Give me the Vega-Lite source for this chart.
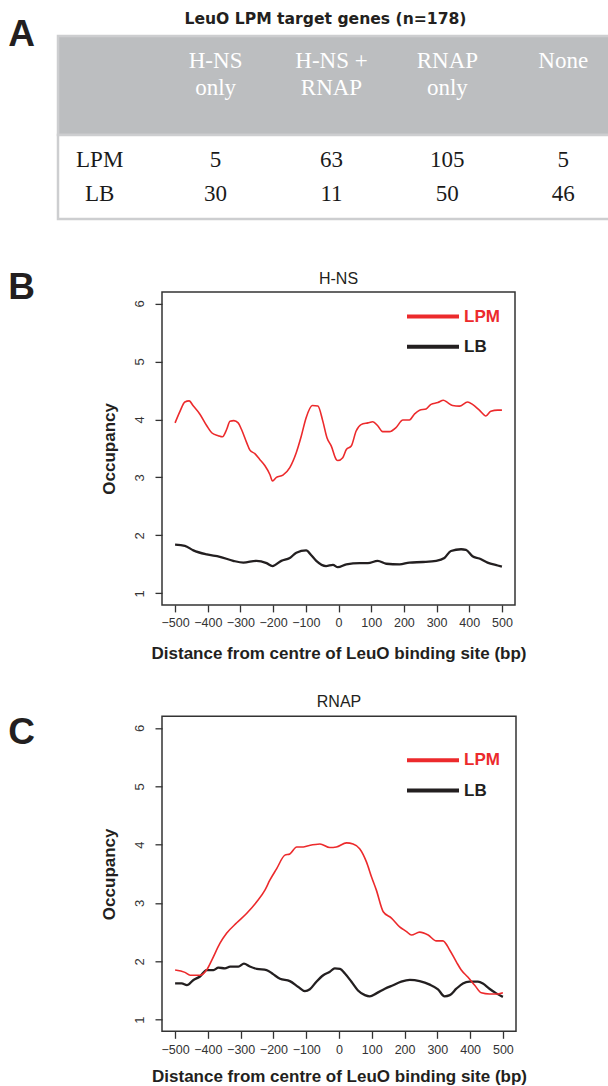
{
  "$schema": "https://vega.github.io/schema/vega-lite/v6.json",
  "background": "white",
  "padding": {"left": 0, "top": 11, "right": 0, "bottom": 0},
  "spacing": 47.9,
  "resolve": {"scale": {"color": "independent"}, "legend": {"color": "independent"}},
  "datasets": {
    "panels": [{"panel": "A"}, {"panel": "B"}, {"panel": "C"}],
    "headings": [
      {"group": "H-NS only", "heading": "H-NS\nonly"},
      {"group": "H-NS + RNAP", "heading": "H-NS +\nRNAP"},
      {"group": "RNAP only", "heading": "RNAP\nonly"},
      {"group": "None", "heading": "None"}
    ],
    "counts": [
      {"condition": "LPM", "group": "H-NS only", "genes": 5},
      {"condition": "LPM", "group": "H-NS + RNAP", "genes": 63},
      {"condition": "LPM", "group": "RNAP only", "genes": 105},
      {"condition": "LPM", "group": "None", "genes": 5},
      {"condition": "LB", "group": "H-NS only", "genes": 30},
      {"condition": "LB", "group": "H-NS + RNAP", "genes": 11},
      {"condition": "LB", "group": "RNAP only", "genes": 50},
      {"condition": "LB", "group": "None", "genes": 46}
    ],
    "curves": [
      {"target": "H-NS", "sample": "LPM", "pos": -500, "occ": 3.94},
      {"target": "H-NS", "sample": "LPM", "pos": -485, "occ": 4.14},
      {"target": "H-NS", "sample": "LPM", "pos": -470, "occ": 4.30},
      {"target": "H-NS", "sample": "LPM", "pos": -457, "occ": 4.32},
      {"target": "H-NS", "sample": "LPM", "pos": -444, "occ": 4.23},
      {"target": "H-NS", "sample": "LPM", "pos": -424, "occ": 4.09},
      {"target": "H-NS", "sample": "LPM", "pos": -403, "occ": 3.89},
      {"target": "H-NS", "sample": "LPM", "pos": -388, "occ": 3.77},
      {"target": "H-NS", "sample": "LPM", "pos": -368, "occ": 3.72},
      {"target": "H-NS", "sample": "LPM", "pos": -355, "occ": 3.70},
      {"target": "H-NS", "sample": "LPM", "pos": -342, "occ": 3.83},
      {"target": "H-NS", "sample": "LPM", "pos": -332, "occ": 3.97},
      {"target": "H-NS", "sample": "LPM", "pos": -320, "occ": 3.98},
      {"target": "H-NS", "sample": "LPM", "pos": -307, "occ": 3.94},
      {"target": "H-NS", "sample": "LPM", "pos": -297, "occ": 3.83},
      {"target": "H-NS", "sample": "LPM", "pos": -281, "occ": 3.60},
      {"target": "H-NS", "sample": "LPM", "pos": -271, "occ": 3.47},
      {"target": "H-NS", "sample": "LPM", "pos": -256, "occ": 3.41},
      {"target": "H-NS", "sample": "LPM", "pos": -241, "occ": 3.31},
      {"target": "H-NS", "sample": "LPM", "pos": -225, "occ": 3.20},
      {"target": "H-NS", "sample": "LPM", "pos": -210, "occ": 3.05},
      {"target": "H-NS", "sample": "LPM", "pos": -202, "occ": 2.94},
      {"target": "H-NS", "sample": "LPM", "pos": -190, "occ": 3.00},
      {"target": "H-NS", "sample": "LPM", "pos": -170, "occ": 3.04},
      {"target": "H-NS", "sample": "LPM", "pos": -149, "occ": 3.17},
      {"target": "H-NS", "sample": "LPM", "pos": -129, "occ": 3.43},
      {"target": "H-NS", "sample": "LPM", "pos": -114, "occ": 3.71},
      {"target": "H-NS", "sample": "LPM", "pos": -99, "occ": 4.03},
      {"target": "H-NS", "sample": "LPM", "pos": -80, "occ": 4.24},
      {"target": "H-NS", "sample": "LPM", "pos": -63, "occ": 4.23},
      {"target": "H-NS", "sample": "LPM", "pos": -48, "occ": 3.97},
      {"target": "H-NS", "sample": "LPM", "pos": -35, "occ": 3.68},
      {"target": "H-NS", "sample": "LPM", "pos": -22, "occ": 3.54},
      {"target": "H-NS", "sample": "LPM", "pos": -7, "occ": 3.31},
      {"target": "H-NS", "sample": "LPM", "pos": -2, "occ": 3.29},
      {"target": "H-NS", "sample": "LPM", "pos": 13, "occ": 3.34},
      {"target": "H-NS", "sample": "LPM", "pos": 24, "occ": 3.48},
      {"target": "H-NS", "sample": "LPM", "pos": 39, "occ": 3.54},
      {"target": "H-NS", "sample": "LPM", "pos": 54, "occ": 3.80},
      {"target": "H-NS", "sample": "LPM", "pos": 69, "occ": 3.91},
      {"target": "H-NS", "sample": "LPM", "pos": 90, "occ": 3.94},
      {"target": "H-NS", "sample": "LPM", "pos": 105, "occ": 3.96},
      {"target": "H-NS", "sample": "LPM", "pos": 120, "occ": 3.89},
      {"target": "H-NS", "sample": "LPM", "pos": 135, "occ": 3.79},
      {"target": "H-NS", "sample": "LPM", "pos": 156, "occ": 3.79},
      {"target": "H-NS", "sample": "LPM", "pos": 176, "occ": 3.86},
      {"target": "H-NS", "sample": "LPM", "pos": 197, "occ": 3.99},
      {"target": "H-NS", "sample": "LPM", "pos": 217, "occ": 3.99},
      {"target": "H-NS", "sample": "LPM", "pos": 232, "occ": 4.09},
      {"target": "H-NS", "sample": "LPM", "pos": 248, "occ": 4.16},
      {"target": "H-NS", "sample": "LPM", "pos": 268, "occ": 4.18},
      {"target": "H-NS", "sample": "LPM", "pos": 283, "occ": 4.26},
      {"target": "H-NS", "sample": "LPM", "pos": 304, "occ": 4.29},
      {"target": "H-NS", "sample": "LPM", "pos": 321, "occ": 4.33},
      {"target": "H-NS", "sample": "LPM", "pos": 334, "occ": 4.29},
      {"target": "H-NS", "sample": "LPM", "pos": 349, "occ": 4.24},
      {"target": "H-NS", "sample": "LPM", "pos": 370, "occ": 4.23},
      {"target": "H-NS", "sample": "LPM", "pos": 395, "occ": 4.30},
      {"target": "H-NS", "sample": "LPM", "pos": 410, "occ": 4.26},
      {"target": "H-NS", "sample": "LPM", "pos": 431, "occ": 4.16},
      {"target": "H-NS", "sample": "LPM", "pos": 451, "occ": 4.06},
      {"target": "H-NS", "sample": "LPM", "pos": 466, "occ": 4.14},
      {"target": "H-NS", "sample": "LPM", "pos": 487, "occ": 4.16},
      {"target": "H-NS", "sample": "LPM", "pos": 500, "occ": 4.16},
      {"target": "H-NS", "sample": "LB", "pos": -500, "occ": 1.84},
      {"target": "H-NS", "sample": "LB", "pos": -470, "occ": 1.82},
      {"target": "H-NS", "sample": "LB", "pos": -444, "occ": 1.74},
      {"target": "H-NS", "sample": "LB", "pos": -403, "occ": 1.67},
      {"target": "H-NS", "sample": "LB", "pos": -363, "occ": 1.63},
      {"target": "H-NS", "sample": "LB", "pos": -322, "occ": 1.56},
      {"target": "H-NS", "sample": "LB", "pos": -291, "occ": 1.53},
      {"target": "H-NS", "sample": "LB", "pos": -251, "occ": 1.56},
      {"target": "H-NS", "sample": "LB", "pos": -220, "occ": 1.52},
      {"target": "H-NS", "sample": "LB", "pos": -202, "occ": 1.47},
      {"target": "H-NS", "sample": "LB", "pos": -175, "occ": 1.56},
      {"target": "H-NS", "sample": "LB", "pos": -149, "occ": 1.61},
      {"target": "H-NS", "sample": "LB", "pos": -129, "occ": 1.70},
      {"target": "H-NS", "sample": "LB", "pos": -99, "occ": 1.74},
      {"target": "H-NS", "sample": "LB", "pos": -84, "occ": 1.66},
      {"target": "H-NS", "sample": "LB", "pos": -68, "occ": 1.56},
      {"target": "H-NS", "sample": "LB", "pos": -38, "occ": 1.47},
      {"target": "H-NS", "sample": "LB", "pos": -17, "occ": 1.49},
      {"target": "H-NS", "sample": "LB", "pos": -2, "occ": 1.45},
      {"target": "H-NS", "sample": "LB", "pos": 24, "occ": 1.50},
      {"target": "H-NS", "sample": "LB", "pos": 65, "occ": 1.52},
      {"target": "H-NS", "sample": "LB", "pos": 90, "occ": 1.52},
      {"target": "H-NS", "sample": "LB", "pos": 120, "occ": 1.56},
      {"target": "H-NS", "sample": "LB", "pos": 146, "occ": 1.51},
      {"target": "H-NS", "sample": "LB", "pos": 187, "occ": 1.50},
      {"target": "H-NS", "sample": "LB", "pos": 217, "occ": 1.53},
      {"target": "H-NS", "sample": "LB", "pos": 258, "occ": 1.54},
      {"target": "H-NS", "sample": "LB", "pos": 299, "occ": 1.56},
      {"target": "H-NS", "sample": "LB", "pos": 324, "occ": 1.61},
      {"target": "H-NS", "sample": "LB", "pos": 344, "occ": 1.73},
      {"target": "H-NS", "sample": "LB", "pos": 375, "occ": 1.76},
      {"target": "H-NS", "sample": "LB", "pos": 390, "occ": 1.75},
      {"target": "H-NS", "sample": "LB", "pos": 410, "occ": 1.64},
      {"target": "H-NS", "sample": "LB", "pos": 431, "occ": 1.60},
      {"target": "H-NS", "sample": "LB", "pos": 456, "occ": 1.53},
      {"target": "H-NS", "sample": "LB", "pos": 487, "occ": 1.48},
      {"target": "H-NS", "sample": "LB", "pos": 500, "occ": 1.46},
      {"target": "RNAP", "sample": "LPM", "pos": -500, "occ": 1.85},
      {"target": "RNAP", "sample": "LPM", "pos": -470, "occ": 1.81},
      {"target": "RNAP", "sample": "LPM", "pos": -454, "occ": 1.76},
      {"target": "RNAP", "sample": "LPM", "pos": -424, "occ": 1.76},
      {"target": "RNAP", "sample": "LPM", "pos": -404, "occ": 1.85},
      {"target": "RNAP", "sample": "LPM", "pos": -388, "occ": 2.02},
      {"target": "RNAP", "sample": "LPM", "pos": -363, "occ": 2.31},
      {"target": "RNAP", "sample": "LPM", "pos": -343, "occ": 2.48},
      {"target": "RNAP", "sample": "LPM", "pos": -312, "occ": 2.66},
      {"target": "RNAP", "sample": "LPM", "pos": -282, "occ": 2.82},
      {"target": "RNAP", "sample": "LPM", "pos": -251, "occ": 3.02},
      {"target": "RNAP", "sample": "LPM", "pos": -226, "occ": 3.22},
      {"target": "RNAP", "sample": "LPM", "pos": -211, "occ": 3.39},
      {"target": "RNAP", "sample": "LPM", "pos": -190, "occ": 3.59},
      {"target": "RNAP", "sample": "LPM", "pos": -165, "occ": 3.82},
      {"target": "RNAP", "sample": "LPM", "pos": -150, "occ": 3.84},
      {"target": "RNAP", "sample": "LPM", "pos": -129, "occ": 3.96},
      {"target": "RNAP", "sample": "LPM", "pos": -109, "occ": 3.96},
      {"target": "RNAP", "sample": "LPM", "pos": -94, "occ": 3.98},
      {"target": "RNAP", "sample": "LPM", "pos": -58, "occ": 4.01},
      {"target": "RNAP", "sample": "LPM", "pos": -28, "occ": 3.95},
      {"target": "RNAP", "sample": "LPM", "pos": -8, "occ": 3.96},
      {"target": "RNAP", "sample": "LPM", "pos": 23, "occ": 4.03},
      {"target": "RNAP", "sample": "LPM", "pos": 43, "occ": 4.01},
      {"target": "RNAP", "sample": "LPM", "pos": 63, "occ": 3.93},
      {"target": "RNAP", "sample": "LPM", "pos": 84, "occ": 3.70},
      {"target": "RNAP", "sample": "LPM", "pos": 99, "occ": 3.45},
      {"target": "RNAP", "sample": "LPM", "pos": 114, "occ": 3.22},
      {"target": "RNAP", "sample": "LPM", "pos": 135, "occ": 2.85},
      {"target": "RNAP", "sample": "LPM", "pos": 160, "occ": 2.74},
      {"target": "RNAP", "sample": "LPM", "pos": 185, "occ": 2.59},
      {"target": "RNAP", "sample": "LPM", "pos": 206, "occ": 2.51},
      {"target": "RNAP", "sample": "LPM", "pos": 221, "occ": 2.45},
      {"target": "RNAP", "sample": "LPM", "pos": 246, "occ": 2.50},
      {"target": "RNAP", "sample": "LPM", "pos": 272, "occ": 2.45},
      {"target": "RNAP", "sample": "LPM", "pos": 297, "occ": 2.35},
      {"target": "RNAP", "sample": "LPM", "pos": 317, "occ": 2.35},
      {"target": "RNAP", "sample": "LPM", "pos": 338, "occ": 2.19},
      {"target": "RNAP", "sample": "LPM", "pos": 358, "occ": 1.99},
      {"target": "RNAP", "sample": "LPM", "pos": 373, "occ": 1.85},
      {"target": "RNAP", "sample": "LPM", "pos": 393, "occ": 1.73},
      {"target": "RNAP", "sample": "LPM", "pos": 414, "occ": 1.59},
      {"target": "RNAP", "sample": "LPM", "pos": 434, "occ": 1.46},
      {"target": "RNAP", "sample": "LPM", "pos": 459, "occ": 1.44},
      {"target": "RNAP", "sample": "LPM", "pos": 485, "occ": 1.44},
      {"target": "RNAP", "sample": "LPM", "pos": 500, "occ": 1.46},
      {"target": "RNAP", "sample": "LB", "pos": -500, "occ": 1.62},
      {"target": "RNAP", "sample": "LB", "pos": -480, "occ": 1.62},
      {"target": "RNAP", "sample": "LB", "pos": -464, "occ": 1.59},
      {"target": "RNAP", "sample": "LB", "pos": -444, "occ": 1.68},
      {"target": "RNAP", "sample": "LB", "pos": -424, "occ": 1.74},
      {"target": "RNAP", "sample": "LB", "pos": -404, "occ": 1.85},
      {"target": "RNAP", "sample": "LB", "pos": -383, "occ": 1.85},
      {"target": "RNAP", "sample": "LB", "pos": -368, "occ": 1.89},
      {"target": "RNAP", "sample": "LB", "pos": -348, "occ": 1.88},
      {"target": "RNAP", "sample": "LB", "pos": -332, "occ": 1.91},
      {"target": "RNAP", "sample": "LB", "pos": -307, "occ": 1.91},
      {"target": "RNAP", "sample": "LB", "pos": -290, "occ": 1.96},
      {"target": "RNAP", "sample": "LB", "pos": -272, "occ": 1.91},
      {"target": "RNAP", "sample": "LB", "pos": -251, "occ": 1.87},
      {"target": "RNAP", "sample": "LB", "pos": -221, "occ": 1.85},
      {"target": "RNAP", "sample": "LB", "pos": -201, "occ": 1.78},
      {"target": "RNAP", "sample": "LB", "pos": -180, "occ": 1.70},
      {"target": "RNAP", "sample": "LB", "pos": -150, "occ": 1.66},
      {"target": "RNAP", "sample": "LB", "pos": -124, "occ": 1.56},
      {"target": "RNAP", "sample": "LB", "pos": -104, "occ": 1.49},
      {"target": "RNAP", "sample": "LB", "pos": -89, "occ": 1.52},
      {"target": "RNAP", "sample": "LB", "pos": -69, "occ": 1.65},
      {"target": "RNAP", "sample": "LB", "pos": -48, "occ": 1.76},
      {"target": "RNAP", "sample": "LB", "pos": -28, "occ": 1.82},
      {"target": "RNAP", "sample": "LB", "pos": -13, "occ": 1.88},
      {"target": "RNAP", "sample": "LB", "pos": 3, "occ": 1.87},
      {"target": "RNAP", "sample": "LB", "pos": 18, "occ": 1.79},
      {"target": "RNAP", "sample": "LB", "pos": 38, "occ": 1.65},
      {"target": "RNAP", "sample": "LB", "pos": 58, "occ": 1.50},
      {"target": "RNAP", "sample": "LB", "pos": 79, "occ": 1.42},
      {"target": "RNAP", "sample": "LB", "pos": 94, "occ": 1.40},
      {"target": "RNAP", "sample": "LB", "pos": 114, "occ": 1.45},
      {"target": "RNAP", "sample": "LB", "pos": 140, "occ": 1.53},
      {"target": "RNAP", "sample": "LB", "pos": 165, "occ": 1.59},
      {"target": "RNAP", "sample": "LB", "pos": 190, "occ": 1.65},
      {"target": "RNAP", "sample": "LB", "pos": 216, "occ": 1.68},
      {"target": "RNAP", "sample": "LB", "pos": 246, "occ": 1.66},
      {"target": "RNAP", "sample": "LB", "pos": 277, "occ": 1.60},
      {"target": "RNAP", "sample": "LB", "pos": 302, "occ": 1.52},
      {"target": "RNAP", "sample": "LB", "pos": 322, "occ": 1.40},
      {"target": "RNAP", "sample": "LB", "pos": 338, "occ": 1.42},
      {"target": "RNAP", "sample": "LB", "pos": 358, "occ": 1.53},
      {"target": "RNAP", "sample": "LB", "pos": 378, "occ": 1.62},
      {"target": "RNAP", "sample": "LB", "pos": 398, "occ": 1.65},
      {"target": "RNAP", "sample": "LB", "pos": 424, "occ": 1.65},
      {"target": "RNAP", "sample": "LB", "pos": 439, "occ": 1.62},
      {"target": "RNAP", "sample": "LB", "pos": 459, "occ": 1.53},
      {"target": "RNAP", "sample": "LB", "pos": 480, "occ": 1.45},
      {"target": "RNAP", "sample": "LB", "pos": 500, "occ": 1.39}
    ]
  },
  "config": {
    "font": "Liberation Sans",
    "view": {"stroke": "#333333", "strokeWidth": 1.5},
    "axis": {
      "grid": false, "domain": false, "tickColor": "#333333", "tickWidth": 1.3, "tickSize": 7,
      "labelColor": "#333333", "labelFont": "Liberation Sans", "titleFont": "Liberation Sans",
      "titleFontWeight": "bold", "titleFontSize": 17, "titleColor": "#231f20",
      "labelOverlap": false, "labelFlush": false
    },
    "axisX": {"labelFontSize": 12.5, "labelPadding": 5, "titlePadding": 16},
    "axisY": {"labelFontSize": 13, "labelAngle": -90, "labelAlign": "center", "labelBaseline": "bottom", "labelPadding": 9, "titlePadding": 15},
    "legend": {
      "symbolType": "M-2.6,0H2.6", "symbolSize": 400, "symbolStrokeWidth": 4, "symbolOpacity": 1,
      "labelFont": "Liberation Sans", "labelFontSize": 17, "labelFontWeight": "bold",
      "labelOffset": 19, "rowPadding": 10.2, "padding": 0
    },
    "title": {"font": "Liberation Sans", "fontWeight": "normal", "fontSize": 16, "color": "#231f20", "frame": "group", "baseline": "alphabetic", "anchor": "middle"}
  },
  "vconcat": [
    {
      "hconcat": [
        {
          "width": 43, "height": 20,
          "view": {"stroke": null},
          "data": {"name": "panels"},
          "transform": [{"filter": "datum.panel === 'A'"}],
          "mark": {"type": "text", "font": "Liberation Sans", "fontWeight": "bold", "fontSize": 37, "baseline": "alphabetic", "align": "center", "color": "#231f20"},
          "encoding": {"text": {"field": "panel", "type": "nominal"}}
        },
        {
          "vconcat": [
            {
              "width": 554, "height": 99,
              "view": {"fill": "#bcbec0", "stroke": "#cdced0", "strokeWidth": 2.5},
              "title": {"text": "LeuO LPM target genes (n=178)", "font": "DejaVu Sans", "fontWeight": "bold", "fontSize": 15.6, "offset": 8, "dx": -9.5},
              "data": {"name": "headings"},
              "mark": {"type": "text", "font": "Liberation Serif", "fontSize": 23, "color": "white", "baseline": "alphabetic", "lineBreak": "\n", "lineHeight": 27, "dy": -17.5},
              "encoding": {
                "x": {"field": "group", "type": "nominal", "scale": {"type": "point", "domain": ["Condition", "H-NS only", "H-NS + RNAP", "RNAP only", "None"], "padding": 0.39, "align": 0.461}, "axis": null},
                "text": {"field": "heading", "type": "nominal"}
              }
            },
            {
              "width": 554, "height": 84,
              "view": {"fill": "white", "stroke": "#cdced0", "strokeWidth": 2.5},
              "data": {"name": "counts"},
              "encoding": {
                "y": {"field": "condition", "type": "nominal", "scale": {"type": "point", "domain": ["LPM", "LB"], "padding": 0.75}, "axis": null}
              },
              "layer": [
                {
                  "mark": {"type": "text", "font": "Liberation Serif", "fontSize": 23, "color": "#1a1a1a"},
                  "encoding": {
                    "x": {"field": "group", "type": "nominal", "scale": {"type": "point", "domain": ["Condition", "H-NS only", "H-NS + RNAP", "RNAP only", "None"], "padding": 0.39, "align": 0.461}, "axis": null},
                    "text": {"field": "genes", "type": "nominal"}
                  }
                },
                {
                  "transform": [{"aggregate": [], "groupby": ["condition"]}],
                  "mark": {"type": "text", "font": "Liberation Serif", "fontSize": 23, "color": "#1a1a1a"},
                  "encoding": {
                    "x": {"datum": "Condition", "type": "nominal"},
                    "text": {"field": "condition", "type": "nominal"}
                  }
                }
              ]
            }
          ],
          "spacing": 0,
          "bounds": "flush"
        }
      ],
      "spacing": 13
    },
    {
      "vconcat": [
        {
          "hconcat": [
            {
              "width": 43, "height": 14,
              "view": {"stroke": null},
              "data": {"name": "panels"},
              "transform": [{"filter": "datum.panel === 'B'"}],
              "mark": {"type": "text", "font": "Liberation Sans", "fontWeight": "bold", "fontSize": 37, "baseline": "alphabetic", "align": "center", "color": "#231f20"},
              "encoding": {"text": {"field": "panel", "type": "nominal"}}
            },
            {
              "width": 353, "height": 313,
              "title": {"text": "H-NS", "offset": 5},
              "data": {"name": "curves"},
              "transform": [{"filter": "datum.target === 'H-NS'"}],
              "encoding": {
                "x": {"field": "pos", "type": "quantitative", "scale": {"domain": [-540, 540], "nice": false, "zero": false},
                      "axis": {"values": [-500, -400, -300, -200, -100, 0, 100, 200, 300, 400, 500], "title": "Distance from centre of LeuO binding site (bp)"}},
                "y": {"field": "occ", "type": "quantitative", "scale": {"domain": [0.8, 6.2], "nice": false, "zero": false},
                      "axis": {"values": [1, 2, 3, 4, 5, 6], "title": "Occupancy"}},
                "color": {"field": "sample", "type": "nominal", "scale": {"domain": ["LPM", "LB"], "range": ["#ec2a2c", "#231f20"]},
                          "legend": {"title": null, "orient": "none", "legendX": 259, "legendY": 12.7,
                                     "labelColor": {"expr": "datum.label == 'LPM' ? '#ec2a2c' : '#231f20'"}}}
              },
              "layer": [
                {"transform": [{"filter": "datum.sample === 'LB'"}], "mark": {"type": "line", "interpolate": "monotone", "strokeWidth": 2.3}},
                {"transform": [{"filter": "datum.sample === 'LPM'"}], "mark": {"type": "line", "interpolate": "monotone", "strokeWidth": 1.6}}
              ]
            }
          ],
          "spacing": 119,
          "bounds": "flush",
          "resolve": {"scale": {"color": "independent"}, "legend": {"color": "independent"}}
        },
        {
          "hconcat": [
            {
              "width": 43, "height": 55,
              "view": {"stroke": null},
              "data": {"name": "panels"},
              "transform": [{"filter": "datum.panel === 'C'"}],
              "mark": {"type": "text", "font": "Liberation Sans", "fontWeight": "bold", "fontSize": 37, "baseline": "alphabetic", "align": "center", "color": "#231f20"},
              "encoding": {"text": {"field": "panel", "type": "nominal"}}
            },
            {
              "width": 354, "height": 315,
              "title": {"text": "RNAP", "offset": 6},
              "data": {"name": "curves"},
              "transform": [{"filter": "datum.target === 'RNAP'"}],
              "encoding": {
                "x": {"field": "pos", "type": "quantitative", "scale": {"domain": [-540, 540], "nice": false, "zero": false},
                      "axis": {"values": [-500, -400, -300, -200, -100, 0, 100, 200, 300, 400, 500], "title": "Distance from centre of LeuO binding site (bp)", "titlePadding": 13}},
                "y": {"field": "occ", "type": "quantitative", "scale": {"domain": [0.8, 6.2], "nice": false, "zero": false},
                      "axis": {"values": [1, 2, 3, 4, 5, 6], "title": "Occupancy"}},
                "color": {"field": "sample", "type": "nominal", "scale": {"domain": ["LPM", "LB"], "range": ["#ec2a2c", "#231f20"]},
                          "legend": {"title": null, "orient": "none", "legendX": 259, "legendY": 32,
                                     "labelColor": {"expr": "datum.label == 'LPM' ? '#ec2a2c' : '#231f20'"}}}
              },
              "layer": [
                {"transform": [{"filter": "datum.sample === 'LB'"}], "mark": {"type": "line", "interpolate": "monotone", "strokeWidth": 2.3}},
                {"transform": [{"filter": "datum.sample === 'LPM'"}], "mark": {"type": "line", "interpolate": "monotone", "strokeWidth": 1.6}}
              ]
            }
          ],
          "spacing": 119,
          "bounds": "flush",
          "resolve": {"scale": {"color": "independent"}, "legend": {"color": "independent"}}
        }
      ],
      "spacing": 30.4,
      "resolve": {"scale": {"color": "independent"}, "legend": {"color": "independent"}}
    }
  ]
}
